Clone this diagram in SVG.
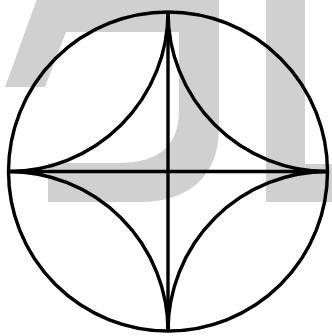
<svg xmlns="http://www.w3.org/2000/svg" width="332" height="336" viewBox="0 0 332 336">
  <style>
    .bg { fill: #d0d0d0; stroke: none; }
    .ln { fill: none; stroke: #000; stroke-width: 3.4; }
  </style>
  <rect width="332" height="336" fill="#fff"/>
  <g id="backdrop">
    <path class="bg" d="M 37 -1 L 219 -1 L 219 128 C 219 175 190 202 140 202 L 48 202 L 48 163 L 118 163 C 160 163 179 145 179 110 L 179 32 L 66 32 L 45 87 L 5 87 Z"/>
    <path class="bg" d="M 266 -1 L 305 -1 L 305 164 L 333 164 L 333 202 L 266 202 Z"/>
  </g>
  <g id="circle">
    <circle class="ln" cx="168" cy="171.5" r="159.5"/>
  </g>
  <g id="astroid">
    <path class="ln" d="M 8.5 171.5 A 159.5 159.5 0 0 0 168 12 A 159.5 159.5 0 0 0 327.5 171.5 A 159.5 159.5 0 0 0 168 331 A 159.5 159.5 0 0 0 8.5 171.5 Z"/>
  </g>
  <g id="connectors">
    <line class="ln" x1="8.5" y1="171.5" x2="327.5" y2="171.5"/>
    <line class="ln" x1="168" y1="12" x2="168" y2="331"/>
  </g>
</svg>
